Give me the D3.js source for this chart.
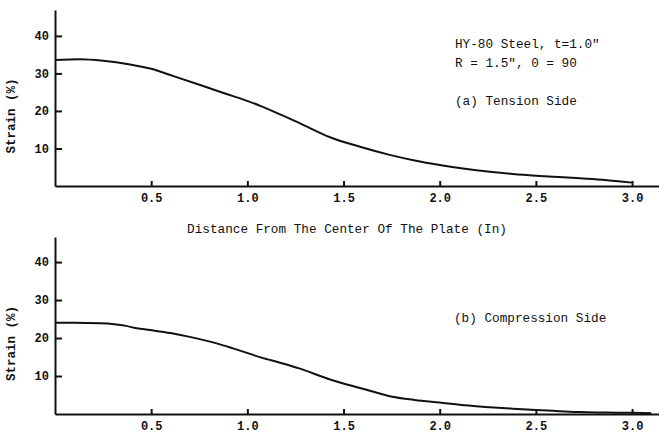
<!DOCTYPE html>
<html><head><meta charset="utf-8">
<script src="https://cdn.jsdelivr.net/npm/d3@7"></script>
<style>body{margin:0;background:#fff}svg{display:block}text{font-family:"Liberation Mono","DejaVu Sans Mono",monospace;fill:#111}</style>
</head><body><svg id="c" width="659" height="435"></svg>
<script>
const tensionX = [0, 0.13, 0.25, 0.39, 0.495, 0.62, 0.755, 0.88, 1.01, 1.07, 1.17, 1.274, 1.43, 1.59, 1.74, 1.87, 2.0, 2.13, 2.26, 2.38, 2.5, 2.62, 2.73, 2.86, 2.94, 3.0];
const tensionY = [33.6, 33.8, 33.4, 32.4, 31.3, 29.2, 26.9, 24.7, 22.5, 21.3, 19.1, 16.7, 13.0, 10.4, 8.3, 6.8, 5.6, 4.6, 3.8, 3.2, 2.75, 2.4, 2.05, 1.6, 1.2, 0.9];
const compressionX = [0, 0.1, 0.235, 0.37, 0.41, 0.495, 0.6, 0.70, 0.84, 0.93, 1.01, 1.07, 1.17, 1.27, 1.43, 1.59, 1.74, 1.87, 2.0, 2.13, 2.26, 2.38, 2.5, 2.62, 2.73, 2.86, 3.0, 3.1];
const compressionY = [24.0, 24.0, 23.9, 23.2, 22.7, 22.1, 21.3, 20.3, 18.6, 17.2, 15.9, 14.9, 13.5, 12.0, 9.1, 6.8, 4.7, 3.7, 3.0, 2.3, 1.8, 1.4, 1.05, 0.75, 0.5, 0.4, 0.3, 0.2];
const xTicks = [0.5, 1.0, 1.5, 2.0, 2.5, 3.0];
const xTickLabels = ["0.5", "1.0", "1.5", "2.0", "2.5", "3.0"];
const yTicks = [10, 20, 30, 40];
const yTickLabels = ["10", "20", "30", "40"];
const xTitle = "Distance From The Center Of The Plate (In)";
const yTitle = "Strain (%)";
const notesTop = ["HY-80 Steel, t=1.0\"", "R = 1.5\", 0 = 90", "(a) Tension Side"];
const notesBottom = ["(b) Compression Side"];

const svg = d3.select("#c");
const x = d3.scaleLinear().domain([0, 3.14]).range([55, 659]);

function panel(top, bottom, xs, ys, yDomTop) {
  const y = d3.scaleLinear().domain([0, yDomTop]).range([bottom, top]);
  const g = svg.append("g");
  const xa = g.append("g").attr("transform", `translate(0,${bottom})`)
    .call(d3.axisBottom(x).tickValues(xTicks).tickFormat((d,i)=>xTickLabels[i]).tickSizeInner(-5).tickSizeOuter(0).tickPadding(6));
  xa.select(".domain").attr("stroke", "#111").attr("stroke-width", 2);
  xa.selectAll(".tick line").attr("stroke", "#111").attr("stroke-width", 2);
  xa.selectAll(".tick text").attr("font-size", 12).attr("font-weight", "bold").attr("fill", "#111")
    .attr("font-family", "Liberation Mono, monospace").attr("dy", "0.8em");
  const ya = g.append("g").attr("transform", `translate(55,0)`)
    .call(d3.axisLeft(y).tickValues(yTicks).tickFormat((d,i)=>yTickLabels[i]).tickSizeInner(-7).tickSizeOuter(0).tickPadding(6));
  ya.select(".domain").attr("stroke", "#111").attr("stroke-width", 2);
  ya.selectAll(".tick line").attr("stroke", "#111").attr("stroke-width", 2);
  ya.selectAll(".tick text").attr("font-size", 12).attr("font-weight", "bold").attr("fill", "#111")
    .attr("font-family", "Liberation Mono, monospace").attr("x", -6);
  const data = xs.map((v,i)=>[v, ys[i]]);
  g.append("path").datum(data)
    .attr("d", d3.line().x(d=>x(d[0])).y(d=>y(d[1])).curve(d3.curveMonotoneX))
    .attr("fill", "none").attr("stroke", "#111").attr("stroke-width", 2);
  g.append("text").attr("transform", `translate(15,${(top+bottom)/2 + 18}) rotate(-90)`)
    .attr("text-anchor", "middle").attr("font-size", 12.5).attr("font-weight", "bold").text(yTitle);
  return y;
}

panel(10, 186, tensionX, tensionY, 46.9);
panel(237, 414, compressionX, compressionY, 46.6);

svg.append("text").attr("x", 347).attr("y", 233).attr("text-anchor", "middle")
  .attr("font-size", 12.7).text(xTitle);

const ny = [48, 67, 105];
notesTop.forEach((t,i)=>svg.append("text").attr("x", 455).attr("y", ny[i]).attr("font-size", 12.7).text(t));
notesBottom.forEach(t=>svg.append("text").attr("x", 454).attr("y", 322).attr("font-size", 12.7).text(t));
</script></body></html>
